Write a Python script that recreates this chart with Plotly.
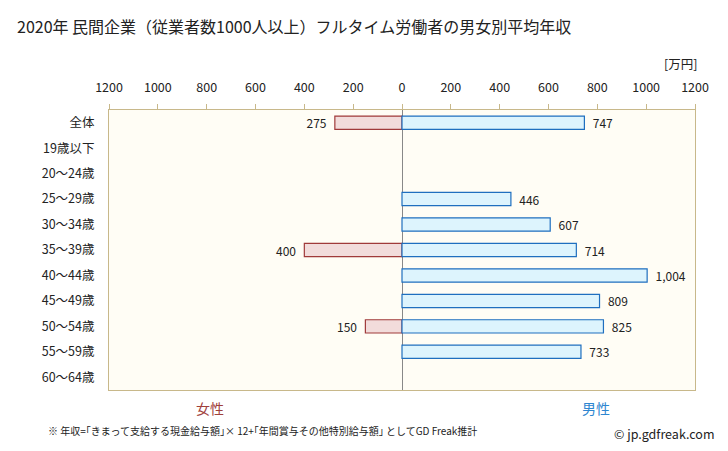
import plotly.graph_objects as go

categories = ["全体", "19歳以下", "20～24歳", "25～29歳", "30～34歳", "35～39歳",
              "40～44歳", "45～49歳", "50～54歳", "55～59歳", "60～64歳"]
female = [275, None, None, None, None, 400, None, None, 150, None, None]
male = [747, None, None, 446, 607, 714, 1004, 809, 825, 733, None]
tick_vals = [-1200, -1000, -800, -600, -400, -200, 0, 200, 400, 600, 800, 1000, 1200]
tick_text = ["1200", "1000", "800", "600", "400", "200", "0", "200", "400", "600", "800", "1000", "1200"]

FONT = "Noto Sans CJK JP, Noto Sans, sans-serif"

fig = go.Figure()
fig.add_trace(go.Bar(
    y=categories, x=[-v if v is not None else None for v in female], orientation="h",
    marker=dict(color="#f2dcdb", line=dict(color="#a03a3a", width=1.2)),
    text=[f"{v:,}  " if v is not None else "" for v in female],
    textposition="outside", constraintext="none",
    textfont=dict(size=12, color="#222"), cliponaxis=False,
    width=0.52, hoverinfo="skip"))
fig.add_trace(go.Bar(
    y=categories, x=male, orientation="h",
    marker=dict(color="#ddf4fd", line=dict(color="#1f6fbf", width=1.2)),
    text=[f"  {v:,}" if v is not None else "" for v in male],
    textposition="outside", constraintext="none",
    textfont=dict(size=12, color="#222"), cliponaxis=False,
    width=0.52, hoverinfo="skip"))

fig.update_layout(
    width=728, height=451, barmode="overlay", showlegend=False,
    margin=dict(l=109, r=33, t=110, b=61),
    paper_bgcolor="white", plot_bgcolor="#fffdf5",
    font=dict(family=FONT, size=12, color="#222"),
    title=dict(text="2020年 民間企業（従業者数1000人以上）フルタイム労働者の男女別平均年収",
               x=17 / 728, xanchor="left", y=1 - 27 / 451, yanchor="middle",
               font=dict(size=16, color="#222")),
    xaxis=dict(range=[-1200, 1200], side="top", tickvals=tick_vals, ticktext=tick_text,
               ticks="outside", ticklen=5, tickcolor="#c8b88a", showgrid=False,
               showline=True, linecolor="#c8b88a", mirror=True,
               zeroline=True, zerolinecolor="#888888", zerolinewidth=1.2,
               tickfont=dict(size=12.5, color="#222"), ticklabelstandoff=7,
               fixedrange=True),
    yaxis=dict(autorange="reversed", showgrid=False, showline=True, linecolor="#c8b88a",
               mirror=True, ticks="", tickfont=dict(size=12.5, color="#222"),
               ticklabelstandoff=11, fixedrange=True),
    bargap=0.48,
)

annos = [
    dict(text="[万円]", xpx=680, ypx=64, size=12.5, color="#222", anchor="center"),
    dict(text="女性", xpx=210, ypx=408, size=14, color="#a0403c", anchor="center"),
    dict(text="男性", xpx=596, ypx=408, size=14, color="#2e86d0", anchor="center"),
    dict(text="※ 年収=｢きまって支給する現金給与額｣× 12+｢年間賞与その他特別給与額｣ としてGD Freak推計",
         xpx=46, ypx=430, size=10, color="#222", anchor="left"),
    dict(text="© jp.gdfreak.com", xpx=717, ypx=434, size=12.5, color="#222", anchor="right"),
]
pw = 728 - 109 - 33
ph = 451 - 110 - 61
for a in annos:
    fig.add_annotation(text=a["text"], x=(a["xpx"] - 109) / pw, y=(451 - 61 - a["ypx"]) / ph,
                       xref="paper", yref="paper", showarrow=False, xanchor=a["anchor"],
                       yanchor="middle", font=dict(size=a["size"], color=a["color"]))

fig.write_html("out.html", config={"displayModeBar": False},
               post_script="document.body.style.margin='0px';document.body.style.overflow='hidden';")
